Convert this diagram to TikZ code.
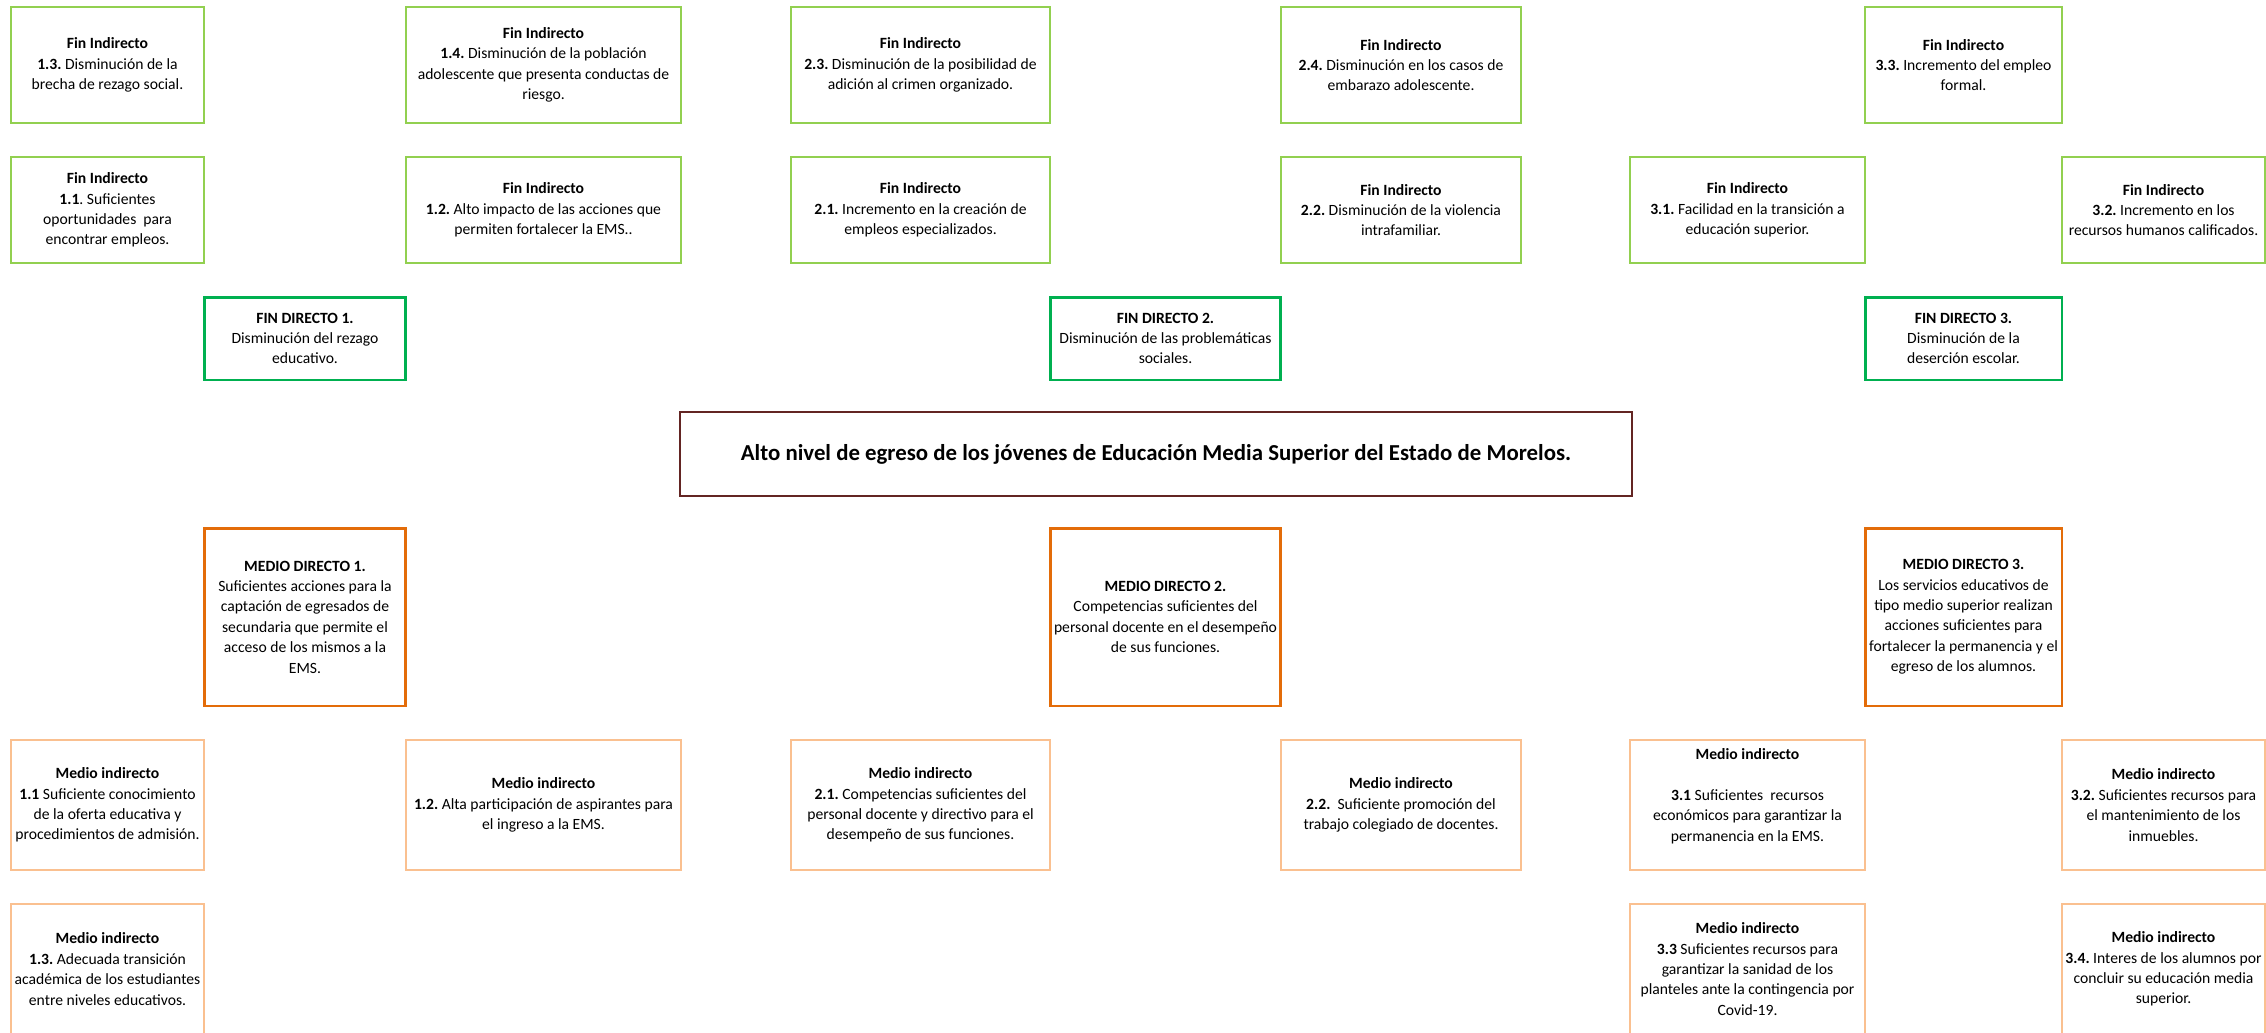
\documentclass[tikz,border=0pt]{standalone}
\usepackage{fontspec}
\setmainfont{Carlito}
\frenchspacing
\definecolor{verdeclaro}{HTML}{92D050}
\definecolor{verde}{HTML}{00B050}
\definecolor{guinda}{HTML}{632523}
\definecolor{naranja}{HTML}{E36C09}
\definecolor{naranjaclaro}{HTML}{FAC090}
\begin{document}
\begin{tikzpicture}[x=0.02cm, y=-0.02cm,
        caja/.style={draw, rectangle, inner sep=0pt, align=center, font=\fontsize{8.9}{11.6}\selectfont},
        finind/.style={caja, draw=verdeclaro, line width=0.85pt},
        findir/.style={caja, draw=verde, line width=1.7pt},
        medir/.style={caja, draw=naranja, line width=1.7pt},
        medind/.style={caja, draw=naranjaclaro, line width=0.85pt},
        proposito/.style={caja, draw=guinda, line width=1.5pt, font=\fontsize{13}{15}\selectfont\bfseries}]
    \clip (0,0) rectangle (2266,1032);
    \fill[white] (0,0) rectangle (2266,1032);

    % fines indirectos
    \node[finind, minimum width=3.86cm, minimum height=2.32cm] (fi13) at (107.5,65) {\textbf{Fin Indirecto}\\ \textbf{1.3.} Disminución de la\\ brecha de rezago social.};
    \node[finind, minimum width=5.50cm, minimum height=2.32cm] (fi14) at (543.5,65) {\textbf{Fin Indirecto}\\ \textbf{1.4.} Disminución de la población\\ adolescente que presenta conductas de\\ riesgo.};
    \node[finind, minimum width=5.18cm, minimum height=2.32cm] (fi23) at (920.5,65) {\textbf{Fin Indirecto}\\ \textbf{2.3.} Disminución de la posibilidad de\\ adición al crimen organizado.};
    \node[finind, minimum width=4.80cm, minimum height=2.32cm] (fi24) at (1401,65) {\textbf{Fin Indirecto}\\ \textbf{2.4.} Disminución en los casos de\\ embarazo adolescente.};
    \node[finind, minimum width=3.94cm, minimum height=2.32cm] (fi33) at (1963.5,65) {\textbf{Fin Indirecto}\\ \textbf{3.3.} Incremento del empleo\\ formal.};

    \node[finind, minimum width=3.86cm, minimum height=2.12cm] (fi11) at (107.5,210) {\textbf{Fin Indirecto}\\ \textbf{1.1}. Suficientes\\ oportunidades\ \ para\\ encontrar empleos.};
    \node[finind, minimum width=5.50cm, minimum height=2.12cm] (fi12) at (543.5,210) {\textbf{Fin Indirecto}\\ \textbf{1.2.} Alto impacto de las acciones que\\ permiten fortalecer la EMS..};
    \node[finind, minimum width=5.18cm, minimum height=2.12cm] (fi21) at (920.5,210) {\textbf{Fin Indirecto}\\ \textbf{2.1.} Incremento en la creación de\\ empleos especializados.};
    \node[finind, minimum width=4.80cm, minimum height=2.12cm] (fi22) at (1401,210) {\textbf{Fin Indirecto}\\ \textbf{2.2.} Disminución de la violencia\\ intrafamiliar.};
    \node[finind, minimum width=4.70cm, minimum height=2.12cm] (fi31) at (1747.5,210) {\textbf{Fin Indirecto}\\ \textbf{3.1.} Facilidad en la transición a\\ educación superior.};
    \node[finind, minimum width=4.06cm, minimum height=2.12cm] (fi32) at (2163.5,210) {\textbf{Fin Indirecto}\\ \textbf{3.2.} Incremento en los\\ recursos humanos calificados.};

    % fines directos
    \node[findir, minimum width=4.04cm, minimum height=1.66cm] (fd1) at (305,338.5) {\textbf{FIN DIRECTO 1.}\\ Disminución del rezago\\ educativo.};
    \node[findir, minimum width=4.62cm, minimum height=1.66cm] (fd2) at (1165.5,338.5) {\textbf{FIN DIRECTO 2.}\\ Disminución de las problemáticas\\ sociales.};
    \node[findir, minimum width=3.94cm, minimum height=1.66cm] (fd3) at (1963.5,338.5) {\textbf{FIN DIRECTO 3.}\\ Disminución de la\\ deserción escolar.};

    % proposito
    \node[proposito, minimum width=19.04cm, minimum height=1.68cm] (prop) at (1156,454) {Alto nivel de egreso de los jóvenes de Educación Media Superior del Estado de Morelos.};

    % medios directos
    \node[medir, minimum width=4.04cm, minimum height=3.56cm] (md1) at (305,617) {\textbf{MEDIO DIRECTO 1.}\\ Suficientes acciones para la\\ captación de egresados de\\ secundaria que permite el\\ acceso de los mismos a la\\ EMS.};
    \node[medir, minimum width=4.62cm, minimum height=3.56cm] (md2) at (1165.5,617) {\textbf{MEDIO DIRECTO 2.}\\ Competencias suficientes del\\ personal docente en el desempeño\\ de sus funciones.};
    \node[medir, minimum width=3.94cm, minimum height=3.56cm] (md3) at (1963.5,617) {\textbf{MEDIO DIRECTO 3.}\\ Los servicios educativos de\\ tipo medio superior realizan\\ acciones suficientes para\\ fortalecer la permanencia y el\\ egreso de los alumnos.};

    % medios indirectos
    \node[medind, minimum width=3.86cm, minimum height=2.60cm] (mi11) at (107.5,805) {\textbf{Medio indirecto}\\ \textbf{1.1} Suficiente conocimiento\\ de la oferta educativa y\\ procedimientos de admisión.};
    \node[medind, minimum width=5.50cm, minimum height=2.60cm] (mi12) at (543.5,805) {\textbf{Medio indirecto}\\ \textbf{1.2.} Alta participación de aspirantes para\\ el ingreso a la EMS.};
    \node[medind, minimum width=5.18cm, minimum height=2.60cm] (mi21) at (920.5,805) {\textbf{Medio indirecto}\\ \textbf{2.1.} Competencias suficientes del\\ personal docente y directivo para el\\ desempeño de sus funciones.};
    \node[medind, minimum width=4.80cm, minimum height=2.60cm] (mi22) at (1401,805) {\textbf{Medio indirecto}\\ \textbf{2.2.}\ \ Suficiente promoción del\\ trabajo colegiado de docentes.};
    \node[medind, minimum width=4.70cm, minimum height=2.60cm] (mi31) at (1747.5,805) {\textbf{Medio indirecto}\\[11.6pt] \textbf{3.1} Suficientes\ \ recursos\\ económicos para garantizar la\\ permanencia en la EMS.\\};
    \node[medind, minimum width=4.06cm, minimum height=2.60cm] (mi32) at (2163.5,805) {\textbf{Medio indirecto}\\ \textbf{3.2.} Suficientes recursos para\\ el mantenimiento de los\\ inmuebles.};

    \node[medind, minimum width=3.86cm, minimum height=2.60cm] (mi13) at (107.5,969) {\textbf{Medio indirecto}\\ \textbf{1.3.} Adecuada transición\\ académica de los estudiantes\\ entre niveles educativos.};
    \node[medind, minimum width=4.70cm, minimum height=2.60cm] (mi33) at (1747.5,969) {\textbf{Medio indirecto}\\ \textbf{3.3} Suficientes recursos para\\ garantizar la sanidad de los\\ planteles ante la contingencia por\\ Covid-19.};
    \node[medind, minimum width=4.06cm, minimum height=2.60cm] (mi34) at (2163.5,969) {\textbf{Medio indirecto}\\ \textbf{3.4.} Interes de los alumnos por\\ concluir su educación media\\ superior.};
\end{tikzpicture}
\end{document}
